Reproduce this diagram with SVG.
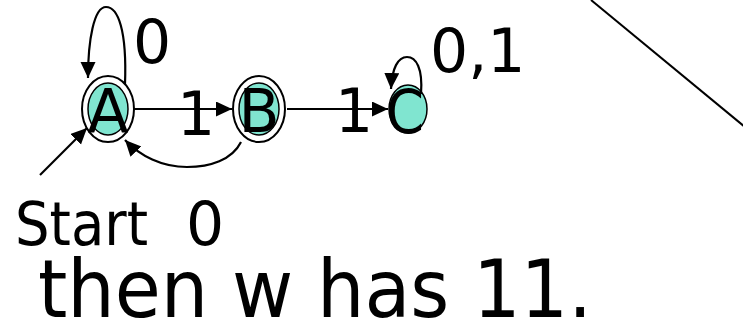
<svg xmlns="http://www.w3.org/2000/svg" width="743" height="326" viewBox="0 0 743 326">
<style>
.lbl{font-family:"DejaVu Sans","Liberation Sans",sans-serif;font-size:60px;fill:#000}
.big{font-family:"DejaVu Sans","Liberation Sans",sans-serif;fill:#000}
.ring{fill:#fff;stroke:#000;stroke-width:2}
.core{fill:#80E5D0;stroke:#000;stroke-width:1.5}
.edge{fill:none;stroke:#000;stroke-width:2.2}
</style>
<defs>
<marker id="ah" markerUnits="userSpaceOnUse" markerWidth="18" markerHeight="16" refX="16" refY="7.5" orient="auto">
<path d="M0,0 L16,7.5 L0,15 Z" fill="#000"/>
</marker>
</defs>
<rect width="743" height="326" fill="#fff"/>
<line x1="591" y1="0" x2="745" y2="127" stroke="#000" stroke-width="2"/>
<g id="A">
<ellipse class="ring" cx="108" cy="109" rx="26" ry="33"/>
<ellipse class="core" cx="108" cy="109" rx="20" ry="26"/>
<text class="lbl" x="108" y="132" text-anchor="middle">A</text>
</g>
<g id="B">
<ellipse class="ring" cx="259" cy="109" rx="26" ry="33"/>
<ellipse class="core" cx="259" cy="109" rx="20" ry="26"/>
<text class="lbl" x="259" y="132" text-anchor="middle">B</text>
</g>
<g id="C">
<ellipse class="core" cx="408" cy="109" rx="19" ry="24"/>
<text class="lbl" x="405" y="133" text-anchor="middle" textLength="38" lengthAdjust="spacingAndGlyphs">C</text>
</g>
<g id="connectors">
<path class="edge" d="M125,84 C127,30 118,7 106,7 C94,7 88,40 88,78" marker-end="url(#ah)"/>
<path class="edge" d="M134,109 L232,109" marker-end="url(#ah)"/>
<path class="edge" d="M241,142 C232,160 210,167 187,167 C162,167 140,156 125,140" marker-end="url(#ah)"/>
<path class="edge" d="M40,175 L87,128" marker-end="url(#ah)"/>
<path class="edge" d="M287,109 L388,109" marker-end="url(#ah)"/>
<path class="edge" d="M421,94 C423,68 416,57 407,57 C398,57 392,68 391,89" marker-end="url(#ah)"/>
</g>
<g id="labels">
<text class="lbl" x="152" y="63" text-anchor="middle">0</text>
<text class="lbl" x="196" y="135" text-anchor="middle">1</text>
<text class="lbl" x="354" y="132" text-anchor="middle">1</text>
<text class="lbl" x="430" y="72">0,1</text>
</g>
<g id="text">
<text class="lbl" x="15" y="245" textLength="133" lengthAdjust="spacingAndGlyphs">Start</text>
<text class="lbl" x="186" y="245">0</text>
<text class="big" x="38" y="317" font-size="80" textLength="554" lengthAdjust="spacingAndGlyphs">then w has 11.</text>
</g>
</svg>
